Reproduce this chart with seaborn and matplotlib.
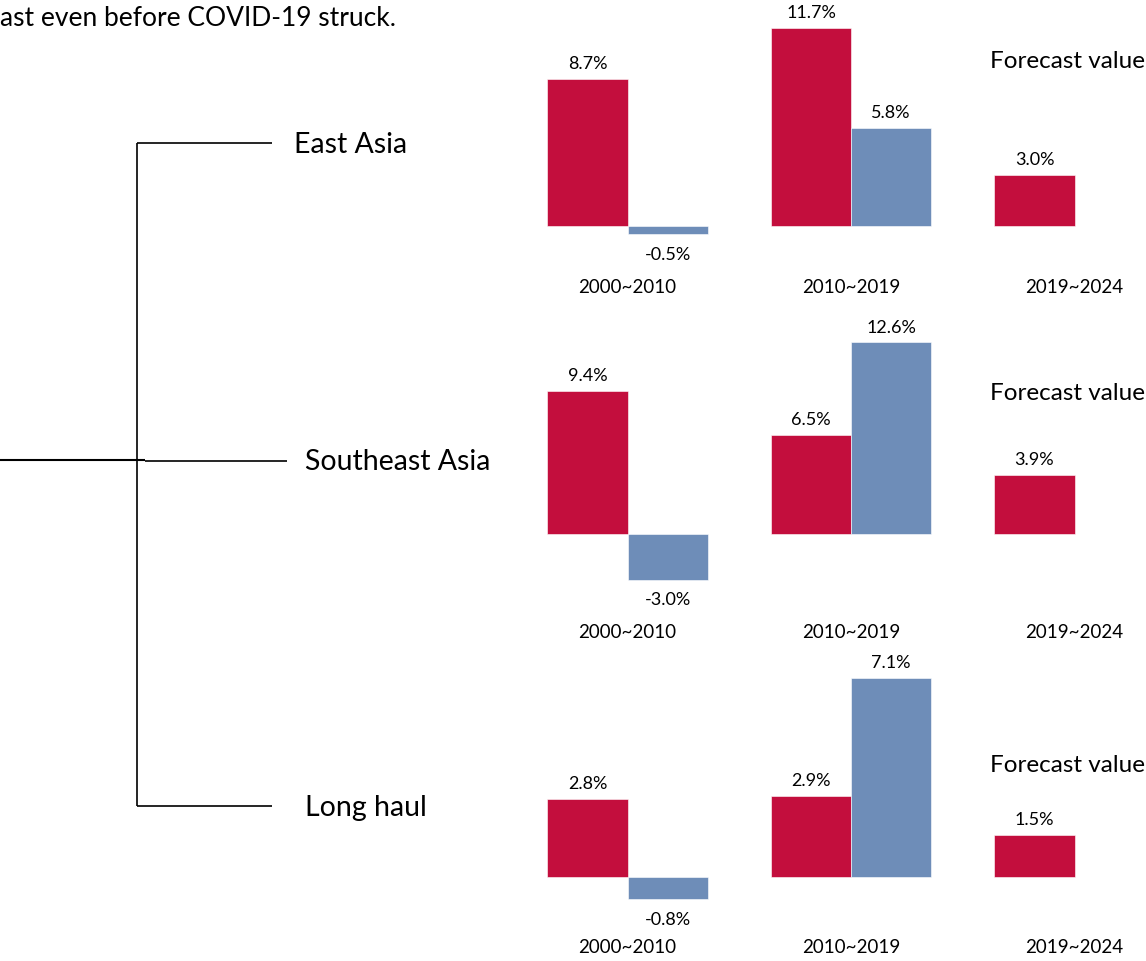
import matplotlib
matplotlib.use("Agg")
import matplotlib.pyplot as plt
import seaborn as sns
import pandas as pd
from matplotlib.lines import Line2D

sns.set_theme(style="white")
plt.rcParams['font.family'] = ['Lato', 'DejaVu Sans']

# ---- data ----
regions = ["East Asia", "Southeast Asia", "Long haul"]
periods = ["2000~2010", "2010~2019", "2019~2024"]
series = ["A", "B"]
east_asia_a = [8.7, 11.7, 3.0]
east_asia_b = [-0.5, 5.8, None]
southeast_asia_a = [9.4, 6.5, 3.9]
southeast_asia_b = [-3.0, 12.6, None]
long_haul_a = [2.8, 2.9, 1.5]
long_haul_b = [-0.8, 7.1, None]
title_text = "ast even before COVID-19 struck."
forecast_label = "Forecast value"

values_a = [east_asia_a, southeast_asia_a, long_haul_a]
values_b = [east_asia_b, southeast_asia_b, long_haul_b]

RED = "#C30E3D"
BLUE = "#6E8DB8"

W, H = 1146, 961
fig = plt.figure(figsize=(W / 100, H / 100), dpi=100)

# layout per row: (top_px, bottom_px, zero_px, px_per_unit)
rows_layout = [(0, 272, 226, 16.9), (310, 617, 534, 15.2), (650, 932, 877, 28.0)]
spacing = 223.5
center0 = 627.5
left_px = center0 - 0.5 * spacing
width_px = 3 * spacing

for i, region in enumerate(regions):
    top, bot, zero, scale = rows_layout[i]
    recs = []
    for j, p in enumerate(periods):
        if values_a[i][j] is not None:
            recs.append({"period": p, "series": "A", "value": values_a[i][j]})
        if values_b[i][j] is not None:
            recs.append({"period": p, "series": "B", "value": values_b[i][j]})
    df = pd.DataFrame(recs)
    ax = fig.add_axes([left_px / W, 1 - bot / H, width_px / W, (bot - top) / H])
    sns.barplot(data=df, x="period", y="value", hue="series", order=periods,
                hue_order=series, palette=[RED, BLUE], width=0.716, saturation=1,
                edgecolor="white", linewidth=0.4, legend=False, ax=ax)
    ax.set_xlim(-0.5, 2.5)
    ax.set_ylim(-(bot - zero) / scale, (zero - top) / scale)
    for s in ax.spines.values():
        s.set_visible(False)
    ax.set_yticks([])
    ax.set_xlabel("")
    ax.set_ylabel("")
    ax.tick_params(axis="x", length=0, pad=5, labelsize=13.5, colors="black")
    ax.set_facecolor("none")
    for patch in ax.patches:
        h = patch.get_height()
        if h != h or patch.get_width() == 0:
            continue
        x = patch.get_x() + patch.get_width() / 2
        if h >= 0:
            ax.annotate(f"{h:.1f}%", (x, h), xytext=(0, 5), textcoords="offset points",
                        ha="center", va="bottom", fontsize=13, color="black",
                        annotation_clip=False)
        else:
            ax.annotate(f"{h:.1f}%", (x, h), xytext=(0, -9), textcoords="offset points",
                        ha="center", va="top", fontsize=13, color="black",
                        annotation_clip=False)

# background tree diagram and texts in pixel coords
bg = fig.add_axes([0, 0, 1, 1], zorder=-1)
bg.set_xlim(0, W)
bg.set_ylim(H, 0)
bg.axis("off")

def seg(x0, y0, x1, y1, lw=1.2):
    bg.add_line(Line2D([x0, x1], [y0, y1], color="black", linewidth=lw,
                       solid_capstyle="butt"))

seg(0, 460, 145, 460, lw=1.5)
seg(137, 143, 137, 806)
seg(137, 143, 272, 143)
seg(145, 461, 287, 461)
seg(137, 806, 272, 806)

label_pos = [(294, 145), (305, 462), (305, 808)]
for (x, y), r in zip(label_pos, regions):
    bg.text(x, y, r, fontsize=20.5, ha="left", va="center", color="black")

for y in [62, 394, 766]:
    bg.text(990, y, forecast_label, fontsize=17.5, ha="left", va="center", color="black")

bg.text(0, 18, title_text, fontsize=19, ha="left", va="center", color="black")

fig.savefig("out.png", dpi=100, facecolor="white")
